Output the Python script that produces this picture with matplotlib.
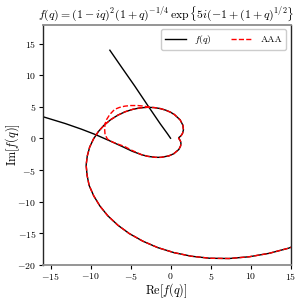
import numpy as np
import matplotlib
matplotlib.use("Agg")
import matplotlib.pyplot as plt

plt.rcParams["font.family"] = "serif"
plt.rcParams["font.serif"] = ["cmr10", "DejaVu Serif"]
plt.rcParams["mathtext.fontset"] = "cm"
plt.rcParams["axes.formatter.use_mathtext"] = True

# f(q) for q > -1 (Re, Im)
main_re = [-19.44, -16.42, -13.16, -11.14, -9.42, -7.47, -6.14, -4.80, -3.65, -2.87,
           -1.90, -1.20, -0.23, 0.38, 1.02, 1.24, 1.28, 1.23, 1.16, 1.09,
           1.04, 1.00, 0.99, 1.05, 1.17, 1.33, 1.48, 1.59, 1.52, 1.18,
           0.47, -0.03, -0.62, -1.30, -2.08, -2.92, -3.81, -4.74, -5.68, -6.60,
           -7.49, -8.30, -9.03, -9.64, -10.12, -10.42, -10.56, -10.44, -10.19, -9.61,
           -8.83, -7.86, -6.60, -5.18, -3.49, -1.63, 0.41, 2.59, 4.90, 7.30,
           9.82, 12.29, 14.71, 17.09]
main_im = [4.68, 3.61, 2.35, 1.46, 0.62, -0.46, -1.23, -2.03, -2.57, -2.83,
           -2.99, -2.99, -2.76, -2.42, -1.74, -1.17, -0.76, -0.47, -0.28, -0.15,
           -0.06, 0.00, 0.08, 0.17, 0.29, 0.50, 0.81, 1.36, 2.09, 2.93,
           3.77, 4.15, 4.47, 4.72, 4.88, 4.92, 4.83, 4.60, 4.22, 3.68,
           2.97, 2.12, 1.09, -0.08, -1.37, -2.79, -4.22, -5.85, -7.42, -9.09,
           -10.71, -12.23, -13.72, -15.04, -16.24, -17.26, -18.06, -18.63, -18.95, -18.99,
           -18.71, -18.17, -17.36, -16.24]

# f(q) for q < -1 (the straight piece ending at the origin)
branch_re = [-0.02, -0.40, -1.30, -2.70, -4.50, -6.10, -7.60]
branch_im = [0.03, 0.73, 2.30, 4.90, 8.30, 11.20, 13.95]

# AAA approximation: small loop near q -> -1, then it follows f(q)
loop_re = [-2.60, -3.30, -4.10, -5.00, -5.75, -6.40, -7.00, -7.60, -8.00, -8.20,
           -8.25, -8.20, -7.90, -7.30, -6.60, -5.80, -4.90]
loop_im = [4.90, 5.10, 5.20, 5.20, 5.10, 4.90, 4.60, 3.80, 3.00, 2.30,
           1.50, 0.60, -0.10, -0.55, -0.90, -1.25, -1.85]
aaa_re = loop_re + main_re[8:]
aaa_im = loop_im + main_im[8:]

fig = plt.figure(figsize=(3.02, 3.0), dpi=100)
ax = fig.add_axes([0.141, 0.117, 0.822, 0.801])

ax.plot(main_re, main_im, color="black", lw=1.0, label=r"$f(q)$")
ax.plot(branch_re, branch_im, color="black", lw=1.0)
ax.plot(aaa_re, aaa_im, color="red", lw=1.0, ls="--", label="AAA")

ax.set_xlim(-16, 15)
ax.set_ylim(-20, 18)
ax.set_xticks([-15, -10, -5, 0, 5, 10, 15])
ax.set_yticks([-20, -15, -10, -5, 0, 5, 10, 15])
ax.tick_params(labelsize=7, length=3, width=0.8, pad=1.5)

for side in ["top", "bottom"]:
    ax.spines[side].set_color("0.55")
    ax.spines[side].set_linewidth(1.3)
for side in ["left", "right"]:
    ax.spines[side].set_color("0.15")
    ax.spines[side].set_linewidth(1.0)

ax.set_xlabel(r"$\mathrm{Re}[f(q)]$", fontsize=8.8, va="center")
ax.set_ylabel(r"$\mathrm{Im}[f(q)]$", fontsize=8.8, va="center")
ax.xaxis.set_label_coords(0.5, -0.108)
ax.yaxis.set_label_coords(-0.122, 0.5)
ax.set_title(r"$f(q) = (1-iq)^2(1+q)^{-1/4}\,\exp\{5i(-1+(1+q)^{1/2}\}$",
             fontsize=8.5, pad=5)
ax.legend(loc="upper right", ncol=2, fontsize=7, handlelength=2.2,
          columnspacing=2.0, borderpad=0.4, framealpha=1.0)

fig.savefig("out.png", dpi=100)
